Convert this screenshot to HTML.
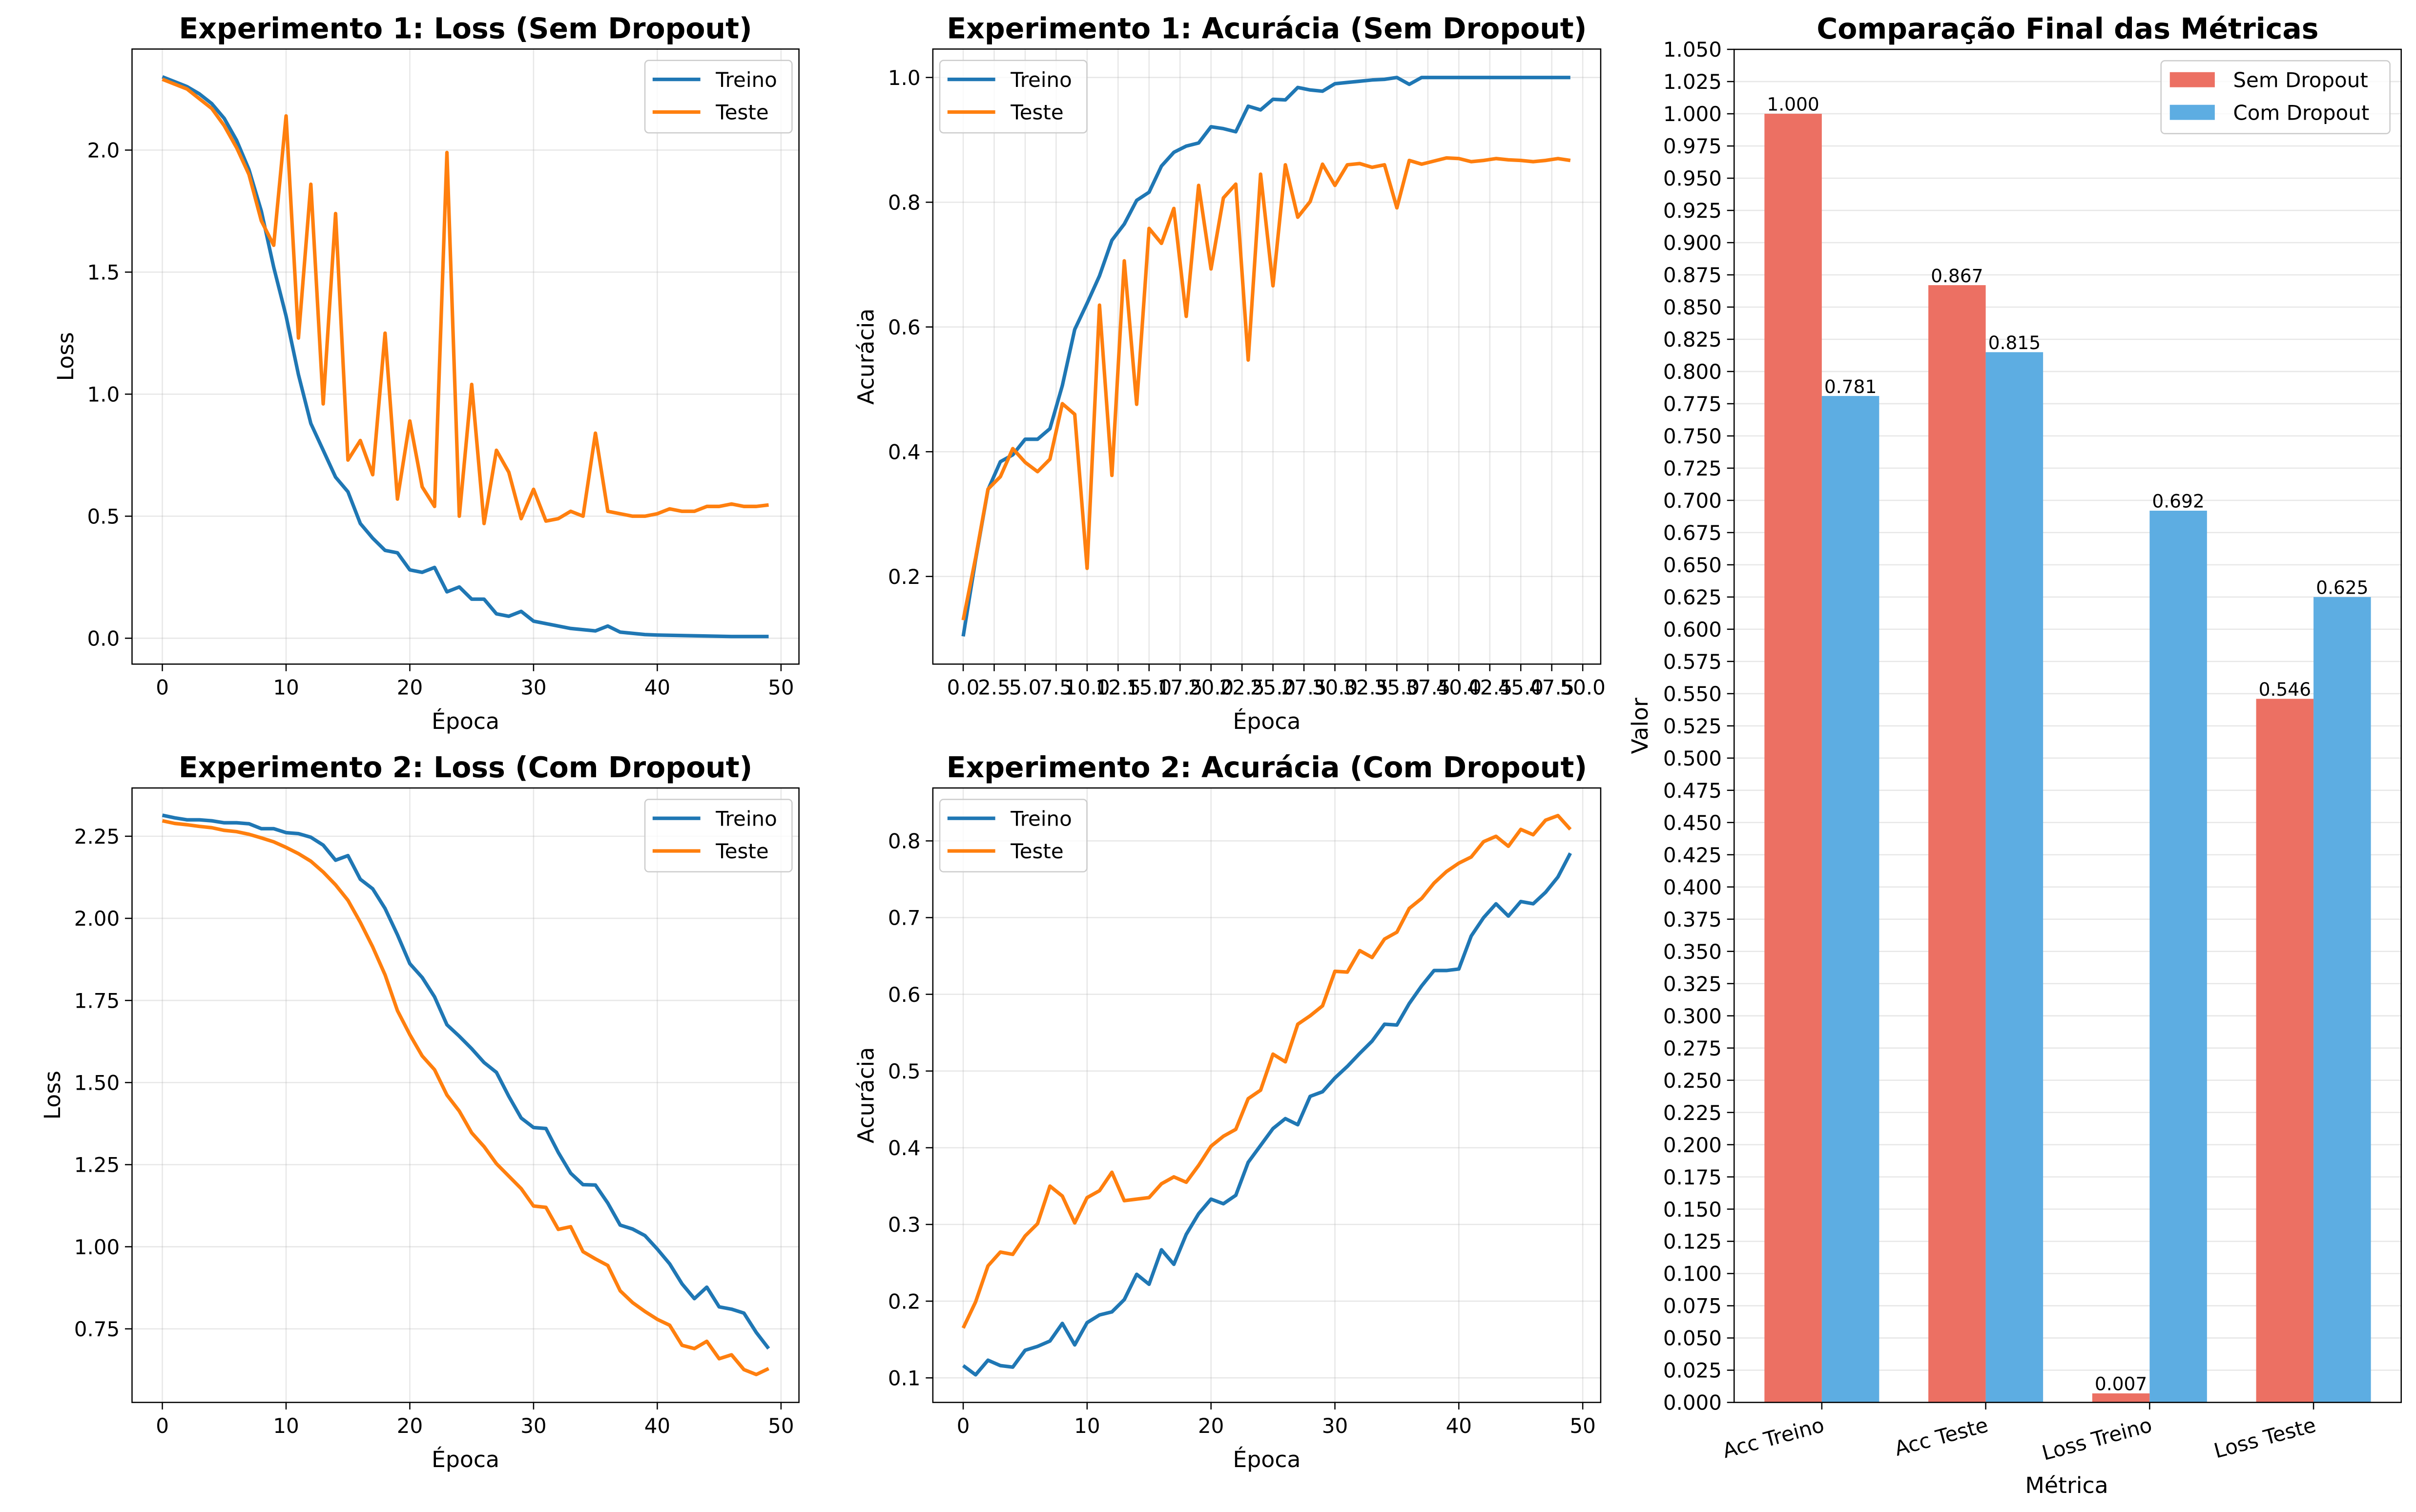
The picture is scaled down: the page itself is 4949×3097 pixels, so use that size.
<!DOCTYPE html>
<html><head><meta charset="utf-8"><style>
html,body{margin:0;padding:0;background:#fff;}
svg{display:block;}
text{font-family:"DejaVu Sans","Liberation Sans",sans-serif;}
</style></head><body>
<svg id="fig" xmlns="http://www.w3.org/2000/svg" width="4949" height="3097" viewBox="0 0 1568.2 981.3">
<rect x="0" y="0" width="1568.2" height="981.3" fill="#fff"/>
</svg>
<script>
// ---- data ----
const epochs = Array.from({length:50},(_,i)=>i);
const exp1LossTrain = [2.30,2.28,2.26,2.23,2.19,2.13,2.04,1.92,1.75,1.52,1.32,1.08,0.88,0.77,0.66,0.60,0.47,0.41,0.36,0.35,0.28,0.27,0.29,0.19,0.21,0.16,0.16,0.10,0.09,0.11,0.07,0.06,0.05,0.04,0.035,0.03,0.05,0.025,0.02,0.015,0.013,0.012,0.011,0.010,0.009,0.008,0.007,0.007,0.007,0.007];
const exp1LossTest = [2.29,2.27,2.25,2.21,2.17,2.10,2.01,1.90,1.71,1.61,2.14,1.23,1.86,0.96,1.74,0.73,0.81,0.67,1.25,0.57,0.89,0.62,0.54,1.99,0.50,1.04,0.47,0.77,0.68,0.49,0.61,0.48,0.49,0.52,0.50,0.84,0.52,0.51,0.50,0.50,0.51,0.53,0.52,0.52,0.54,0.54,0.55,0.54,0.54,0.546];
const exp1AccTrain = [0.104,0.227,0.339,0.384,0.395,0.420,0.420,0.437,0.506,0.596,0.638,0.682,0.739,0.765,0.803,0.816,0.858,0.880,0.890,0.895,0.921,0.918,0.913,0.954,0.948,0.965,0.964,0.984,0.980,0.978,0.990,0.992,0.994,0.996,0.997,1.0,0.989,1.0,1.0,1.0,1.0,1.0,1.0,1.0,1.0,1.0,1.0,1.0,1.0,1.0];
const exp1AccTest = [0.13,0.23,0.34,0.36,0.405,0.383,0.368,0.388,0.477,0.46,0.213,0.635,0.362,0.706,0.476,0.758,0.734,0.79,0.617,0.827,0.693,0.807,0.829,0.547,0.845,0.666,0.86,0.776,0.801,0.861,0.827,0.86,0.862,0.856,0.86,0.791,0.867,0.861,0.866,0.871,0.870,0.865,0.867,0.870,0.868,0.867,0.865,0.867,0.870,0.867];
const exp2LossTrain = [2.314,2.306,2.300,2.300,2.297,2.291,2.291,2.288,2.273,2.273,2.261,2.258,2.247,2.223,2.177,2.191,2.119,2.090,2.030,1.950,1.862,1.820,1.761,1.676,1.641,1.603,1.561,1.531,1.458,1.392,1.363,1.360,1.287,1.224,1.189,1.188,1.133,1.066,1.054,1.034,0.993,0.948,0.887,0.842,0.877,0.817,0.810,0.798,0.739,0.690];
const exp2LossTest = [2.297,2.289,2.285,2.280,2.276,2.268,2.264,2.256,2.245,2.233,2.216,2.197,2.174,2.141,2.102,2.055,1.988,1.913,1.828,1.719,1.646,1.581,1.539,1.462,1.413,1.347,1.305,1.253,1.215,1.177,1.124,1.120,1.053,1.061,0.985,0.963,0.943,0.866,0.830,0.803,0.779,0.761,0.700,0.690,0.712,0.659,0.671,0.626,0.611,0.629];
const exp2AccTrain = [0.116,0.104,0.123,0.116,0.114,0.136,0.141,0.148,0.171,0.143,0.172,0.182,0.186,0.202,0.235,0.222,0.267,0.248,0.287,0.314,0.333,0.327,0.338,0.381,0.403,0.425,0.438,0.430,0.467,0.473,0.491,0.506,0.523,0.539,0.561,0.560,0.588,0.611,0.631,0.631,0.633,0.676,0.700,0.718,0.702,0.721,0.718,0.733,0.753,0.784];
const exp2AccTest = [0.165,0.199,0.246,0.264,0.261,0.285,0.301,0.350,0.337,0.302,0.335,0.344,0.368,0.331,0.333,0.335,0.353,0.362,0.355,0.377,0.402,0.415,0.424,0.464,0.475,0.522,0.512,0.561,0.572,0.585,0.630,0.629,0.657,0.648,0.672,0.681,0.712,0.725,0.745,0.760,0.771,0.779,0.799,0.806,0.793,0.815,0.808,0.827,0.833,0.815];
const barCategories = ["Acc Treino","Acc Teste","Loss Treino","Loss Teste"];
const barSemDropout = [1.000,0.867,0.007,0.546];
const barComDropout = [0.781,0.815,0.692,0.625];
const ticksLoss1 = [0,0.5,1.0,1.5,2.0];
const ticksAcc1 = [0.2,0.4,0.6,0.8,1.0];
const ticksLoss2 = [0.75,1.0,1.25,1.5,1.75,2.0,2.25];
const ticksAcc2 = [0.1,0.2,0.3,0.4,0.5,0.6,0.7,0.8];
const ticksEpoch = [0,10,20,30,40,50];
const ticksEpochHalf = Array.from({length:21},(_,i)=>i*2.5);

const NS="http://www.w3.org/2000/svg";
const svg=document.getElementById('fig');
function el(tag,attrs,parent,txt){const e=document.createElementNS(NS,tag);for(const k in attrs)e.setAttribute(k,attrs[k]);if(txt!==undefined)e.textContent=txt;(parent||svg).appendChild(e);return e;}
const BLUE="#1f77b4",ORANGE="#ff7f0e";

function lineChart(c){
  const g=el('g',{});
  
  
  const sx=v=>c.l+(v-c.xlim[0])/(c.xlim[1]-c.xlim[0])*(c.r-c.l);
  const sy=v=>c.b-(v-c.ylim[0])/(c.ylim[1]-c.ylim[0])*(c.b-c.t);
  c.xticks.forEach(v=>el('line',{x1:sx(v),x2:sx(v),y1:c.t,y2:c.b,stroke:'#b0b0b0','stroke-opacity':0.3,'stroke-width':0.8},g));
  c.yticks.forEach(v=>el('line',{x1:c.l,x2:c.r,y1:sy(v),y2:sy(v),stroke:'#b0b0b0','stroke-opacity':0.3,'stroke-width':0.8},g));
  c.series.forEach(s=>{
    const p=el('polyline',{points:s.data.map((v,i)=>sx(epochs[i]).toFixed(2)+','+sy(v).toFixed(2)).join(' '),fill:'none',stroke:s.color,'stroke-width':2.3,'stroke-linejoin':'round'},g);
    
    
  });
  el('rect',{x:c.l,y:c.t,width:c.r-c.l,height:c.b-c.t,fill:'none',stroke:'#000','stroke-width':0.8},g);
  const xt=el('g',{},g);
  
  
  c.xticks.forEach(v=>{
    el('line',{x1:sx(v),x2:sx(v),y1:c.b,y2:c.b+4.6,stroke:'#000','stroke-width':0.8},xt);
    el('text',{x:sx(v),y:c.b+19.8,'font-size':13.3,'text-anchor':'middle'},xt,c.xfmt(v));
  });
  const yt=el('g',{},g);
  
  
  c.yticks.forEach(v=>{
    el('line',{x1:c.l-4.6,x2:c.l,y1:sy(v),y2:sy(v),stroke:'#000','stroke-width':0.8},yt);
    el('text',{x:c.l-8,y:sy(v)+4.8,'font-size':13.3,'text-anchor':'end'},yt,c.yfmt(v));
  });
  const ti=el('text',{x:(c.l+c.r)/2,y:c.t-7,'font-size':18.5,'font-weight':'bold','text-anchor':'middle'},g,c.title);
  
  
  const xl=el('text',{x:(c.l+c.r)/2,y:c.b+42,'font-size':14.5,'text-anchor':'middle'},g,'Época');
  
  
  const yl=el('text',{x:c.ylx,y:(c.t+c.b)/2,'font-size':14.5,'text-anchor':'middle',transform:`rotate(-90 ${c.ylx} ${(c.t+c.b)/2})`},g,c.ylabel);
  
  
  const lw=95.5,lh=47;
  const lx=c.legend==='right'?c.r-4.5-lw:c.l+4.5;
  const ly=c.t+7.4;
  const lg=el('g',{},g);
  
  
  el('rect',{x:lx,y:ly,width:lw,height:lh,rx:2.5,fill:'#fff','fill-opacity':0.8,stroke:'#ccc','stroke-width':0.8},lg);
  c.series.forEach((s,i)=>{
    const yy=ly+12.3+i*21.2;
    const e=el('g',{},lg);
    
    
    el('line',{x1:lx+5,x2:lx+36,y1:yy,y2:yy,stroke:s.color,'stroke-width':2.3},e);
    el('text',{x:lx+46,y:yy+4.8,'font-size':13.3},e,s.label);
  });
}
const fmt1=v=>v.toFixed(1), fmt0=v=>String(v), fmt2=v=>v.toFixed(2);
lineChart({name:'exp1-loss-chart',l:85.7,r:518.6,t:31.8,b:431,xlim:[-2.45,51.45],ylim:[-0.106,2.414],xticks:ticksEpoch,yticks:ticksLoss1,xfmt:fmt0,yfmt:fmt1,title:'Experimento 1: Loss (Sem Dropout)',ylabel:'Loss',ylx:47.5,legend:'right',
 series:[{key:'line-treino',label:'Treino',color:BLUE,data:exp1LossTrain},{key:'line-teste',label:'Teste',color:ORANGE,data:exp1LossTest}]});
lineChart({name:'exp1-accuracy-chart',l:605.5,r:1039,t:31.8,b:431,xlim:[-2.45,51.45],ylim:[0.0595,1.0456],xticks:ticksEpochHalf,yticks:ticksAcc1,xfmt:fmt1,yfmt:fmt1,title:'Experimento 1: Acurácia (Sem Dropout)',ylabel:'Acurácia',ylx:567,legend:'left',
 series:[{key:'line-treino',label:'Treino',color:BLUE,data:exp1AccTrain},{key:'line-teste',label:'Teste',color:ORANGE,data:exp1AccTest}]});
lineChart({name:'exp2-loss-chart',l:85.7,r:518.6,t:511.4,b:910.2,xlim:[-2.45,51.45],ylim:[0.526,2.397],xticks:ticksEpoch,yticks:ticksLoss2,xfmt:fmt0,yfmt:fmt2,title:'Experimento 2: Loss (Com Dropout)',ylabel:'Loss',ylx:39,legend:'right',
 series:[{key:'line-treino',label:'Treino',color:BLUE,data:exp2LossTrain},{key:'line-teste',label:'Teste',color:ORANGE,data:exp2LossTest}]});
lineChart({name:'exp2-accuracy-chart',l:605.5,r:1039,t:511.4,b:910.2,xlim:[-2.45,51.45],ylim:[0.068,0.869],xticks:ticksEpoch,yticks:ticksAcc2,xfmt:fmt0,yfmt:fmt1,title:'Experimento 2: Acurácia (Com Dropout)',ylabel:'Acurácia',ylx:567,legend:'left',
 series:[{key:'line-treino',label:'Treino',color:BLUE,data:exp2AccTrain},{key:'line-teste',label:'Teste',color:ORANGE,data:exp2AccTest}]});

// ---- bar chart ----
(function(){
  const L=1125.6,R=1558.6,T=32,B=910.2,xlim=[-0.535,3.535],ylim=[0,1.05];
  const g=el('g',{});
  
  
  const sx=v=>L+(v-xlim[0])/(xlim[1]-xlim[0])*(R-L);
  const sy=v=>B-(v-ylim[0])/(ylim[1]-ylim[0])*(B-T);
  const yt=[];for(let i=0;i<=42;i++)yt.push(i*0.025);
  yt.forEach(v=>el('line',{x1:L,x2:R,y1:sy(v),y2:sy(v),stroke:'#b0b0b0','stroke-opacity':0.3,'stroke-width':0.8},g));
  const w=0.35;
  const series=[{data:barSemDropout,color:'#ec7063',off:-w/2,key:'sem'},{data:barComDropout,color:'#5dade2',off:w/2,key:'com'}];
  series.forEach(s=>{
    s.data.forEach((v,i)=>{
      const x0=sx(i+s.off-w/2),x1=sx(i+s.off+w/2);
      const r=el('rect',{x:x0,y:sy(v),width:x1-x0,height:sy(0)-sy(v),fill:s.color},g);
      
      
      const t=el('text',{x:(x0+x1)/2,y:sy(v)-2,'font-size':11.9,'text-anchor':'middle'},g,v.toFixed(3));
      
      
    });
  });
  el('rect',{x:L,y:T,width:R-L,height:B-T,fill:'none',stroke:'#000','stroke-width':0.8},g);
  yt.forEach(v=>{
    el('line',{x1:L-4.6,x2:L,y1:sy(v),y2:sy(v),stroke:'#000','stroke-width':0.8},g);
    el('text',{x:L-8,y:sy(v)+4.8,'font-size':13.3,'text-anchor':'end'},g,v.toFixed(3));
  });
  barCategories.forEach((c,i)=>{
    const x=sx(i);
    el('line',{x1:x,x2:x,y1:B,y2:B+4.6,stroke:'#000','stroke-width':0.8},g);
    const t=el('text',{x:x,y:B+19,'font-size':13.3,'text-anchor':'end',transform:`rotate(-15 ${x} ${B+10})`},g,c);
    
    
  });
  const ti=el('text',{x:(L+R)/2,y:T-7,'font-size':18.5,'font-weight':'bold','text-anchor':'middle'},g,'Comparação Final das Métricas');
  
  
  const xl=el('text',{x:1341.5,y:969,'font-size':14.5,'text-anchor':'middle'},g,'Métrica');
  
  
  const yl=el('text',{x:1069.5,y:(T+B)/2,'font-size':14.5,'text-anchor':'middle',transform:`rotate(-90 1069.5 ${(T+B)/2})`},g,'Valor');
  
  
  const lg=el('g',{},g);
  
  
  el('rect',{x:1402.7,y:39.4,width:148.6,height:47.3,rx:2.5,fill:'#fff','fill-opacity':0.8,stroke:'#ccc','stroke-width':0.8},lg);
  [['Sem Dropout','#ec7063'],['Com Dropout','#5dade2']].forEach((d,i)=>{
    const yy=51.7+i*21.2;
    const e=el('g',{},lg);
    
    
    el('rect',{x:1408.4,y:yy-4.9,width:29.2,height:9.8,fill:d[1]},e);
    el('text',{x:1449.5,y:yy+4.8,'font-size':13.3},e,d[0]);
  });
})();
</script>
</body></html>
